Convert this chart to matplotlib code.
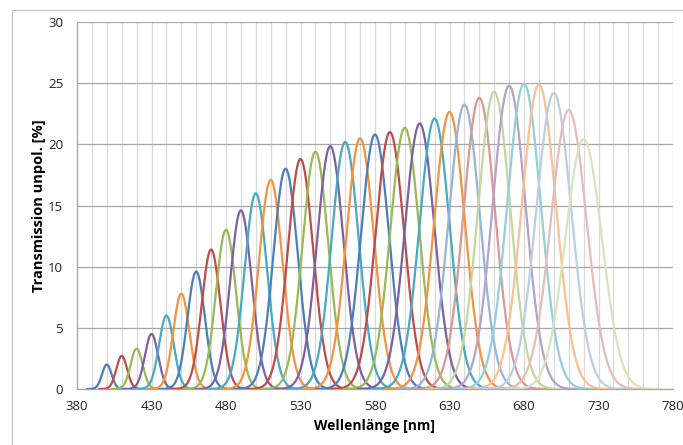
import numpy as np
import matplotlib
matplotlib.use("Agg")
import matplotlib.pyplot as plt
from matplotlib.patches import Rectangle

# ---- data ----
centers = [400, 410, 420, 430, 440, 450, 460, 470, 480, 490, 500, 510, 520, 530,
           540, 550, 560, 570, 580, 590, 600, 610, 620, 630, 640, 650, 660, 670,
           680, 690, 700, 710, 720]
peaks = [2.0, 2.7, 3.3, 4.5, 6.0, 7.8, 9.6, 11.4, 13.0, 14.6, 16.0, 17.1, 18.0, 18.8,
         19.4, 19.85, 20.2, 20.5, 20.8, 21.0, 21.35, 21.7, 22.1, 22.65, 23.25, 23.8, 24.3, 24.8,
         24.95, 24.9, 24.2, 22.8, 20.4]
fwhm = [7.5, 8.5, 9.5, 10.5, 11.6, 12.7, 13.8, 14.9, 16.0, 17.0, 17.9, 18.7, 19.4, 20.0,
        20.5, 21.0, 21.4, 21.8, 22.2, 22.6, 23.0, 23.4, 23.8, 24.2, 24.6, 25.0, 25.5, 26.0,
        26.5, 27.0, 27.6, 28.2, 28.8]
xticks = [380, 430, 480, 530, 580, 630, 680, 730, 780]
yticks = [0, 5, 10, 15, 20, 25, 30]

base_colors = ["#4A7EBB", "#BE4B48", "#98B954", "#7D60A0", "#46AAC5", "#F69240"]

def tint(hexc, f):
    c = np.array(matplotlib.colors.to_rgb(hexc))
    return tuple(c + (1 - c) * f)

fig = plt.figure(figsize=(6.83, 4.45), dpi=100)
W, H = 683, 445
# outer chart border (Excel chart area)
fig.patches.append(Rectangle((12 / W, -0.1), 1.2, 1.1 - 10 / H, transform=fig.transFigure,
                             fill=False, edgecolor="#BFBFBF", linewidth=0.8))

ax = fig.add_axes([77 / W, 1 - 389 / H, (673 - 77) / W, (389 - 22) / H])

for i, (c, p, w) in enumerate(zip(centers, peaks, fwhm)):
    sig = w / 2.3548
    x = np.linspace(c - 4.2 * sig, c + 4.2 * sig, 400)
    y = p * np.exp(-0.5 * ((x - c) / sig) ** 2)
    if i < 24:
        col = base_colors[i % 6]
    elif i < 30:
        col = tint(base_colors[i % 6], 0.42)
    else:
        col = tint(base_colors[i % 6], 0.62)
    ax.plot(x, y, color=col, lw=1.6, solid_capstyle="round", zorder=3)

ax.set_xlim(380, 780)
ax.set_ylim(0, 30)
ax.set_xticks(xticks)
ax.set_yticks(yticks)
ax.set_xticks(np.arange(380, 781, 10), minor=True)
ax.grid(which="minor", axis="x", color="#D9D9D9", lw=0.9, zorder=0)
ax.grid(which="major", axis="x", color="#D9D9D9", lw=0.9, zorder=0)
ax.grid(which="major", axis="y", color="#A6A6A6", lw=0.9, zorder=0)
for s in ["top", "right"]:
    ax.spines[s].set_visible(False)
ax.spines["left"].set_color("#A6A6A6")
ax.spines["bottom"].set_color("#A6A6A6")
ax.spines["left"].set_linewidth(0.9)
ax.spines["bottom"].set_linewidth(0.9)
ax.tick_params(which="both", length=0, labelsize=9.5, colors="#222222")
ax.tick_params(axis="y", pad=10)
ax.tick_params(axis="x", pad=8)
for lab in ax.get_xticklabels() + ax.get_yticklabels():
    lab.set_family("Open Sans")

ax.set_xlabel("Wellenlänge [nm]", fontsize=10, fontweight="bold", family="Open Sans", labelpad=4)
ax.set_ylabel("Transmission unpol. [%]", fontsize=10.5, fontweight="bold", family="Open Sans", labelpad=1)

fig.savefig("out.png", dpi=100)
